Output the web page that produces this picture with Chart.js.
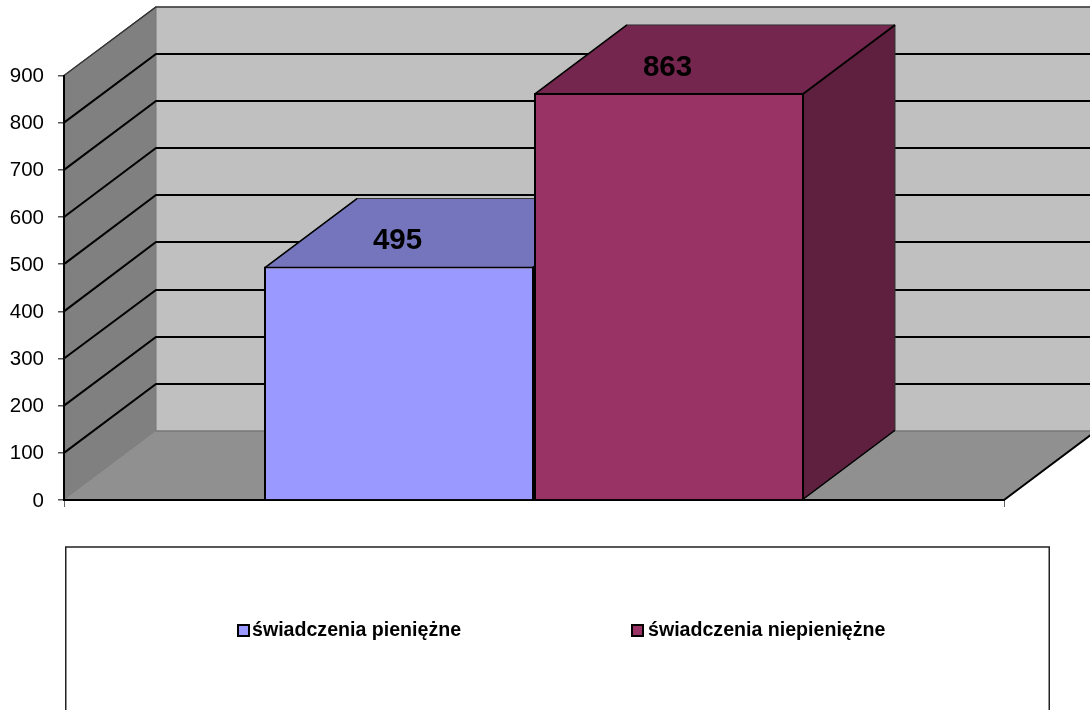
<!DOCTYPE html>
<html>
<head>
<meta charset="utf-8">
<title>Świadczenia</title>
<script src="https://cdn.jsdelivr.net/npm/chart.js@4/dist/chart.umd.min.js"></script>
<style>
  body { margin: 0; background: #fff; }
  canvas { display: block; }
</style>
</head>
<body>
<canvas id="chartContainer" width="1090" height="710"></canvas>
<script>
// data
const categories = [''];
const seriesNames = ['świadczenia pieniężne', 'świadczenia niepieniężne'];
const seriesValues = [[495], [863]];

// colours per series: front, top, side
const frontColors = ['#9999FF', '#993366'];
const topColors = ['#7575BD', '#74264F'];
const sideColors = ['#60607F', '#5F203F'];

const FONT = '"Liberation Sans", Arial, sans-serif';
const depthX = 92;   // how far the 3D box goes right
const depthY = 69;   // and up

function poly(ctx, pts, fill, stroke, lw) {
    ctx.beginPath();
    pts.forEach((p, i) => i ? ctx.lineTo(p[0], p[1]) : ctx.moveTo(p[0], p[1]));
    ctx.closePath();
    if (fill) { ctx.fillStyle = fill; ctx.fill(); }
    if (stroke) { ctx.strokeStyle = stroke; ctx.lineWidth = lw; ctx.stroke(); }
}

function line(ctx, pts, stroke, lw) {
    ctx.beginPath();
    pts.forEach((p, i) => i ? ctx.lineTo(p[0], p[1]) : ctx.moveTo(p[0], p[1]));
    ctx.strokeStyle = stroke;
    ctx.lineWidth = lw;
    ctx.stroke();
}

// back wall, side wall, floor and the gridlines running round them
const wallsPlugin = {
    id: 'walls',
    beforeDraw(chart) {
        const { ctx, chartArea: a, scales: { y } } = chart;
        const l = a.left, r = a.right, b = a.bottom, t = a.top;
        ctx.save();
        poly(ctx, [[l + depthX, t - depthY], [r + depthX, t - depthY], [r + depthX, b - depthY], [l + depthX, b - depthY]], '#C0C0C0');
        poly(ctx, [[l, t], [l + depthX, t - depthY], [l + depthX, b - depthY], [l, b]], '#808080', '#777', 1);
        poly(ctx, [[l, b], [l + depthX, b - depthY], [r + depthX, b - depthY], [r, b]], '#909090');
        line(ctx, [[l + depthX, b - depthY], [r + depthX, b - depthY]], '#777', 1.5);
        y.ticks.forEach(tick => {
            if (tick.value === 0) return;
            const py = y.getPixelForValue(tick.value);
            const backY = Math.round(py - depthY);
            const isTop = tick.value === y.max;
            line(ctx, [[l, py], [l + depthX, backY], [r + depthX, backY]],
                isTop ? '#333' : '#000', isTop ? 1.5 : 2);
        });
        line(ctx, [[r, b], [r + depthX, b - depthY]], '#000', 2);
        ctx.restore();
    },
    // top and side of each bar go under the front faces
    beforeDatasetsDraw(chart) {
        const { ctx } = chart;
        ctx.save();
        chart.data.datasets.forEach((ds, i) => {
            const bar = chart.getDatasetMeta(i).data[0];
            const x1 = bar.x - bar.width / 2 + 1, x2 = bar.x + bar.width / 2 - 1;
            const top = bar.y + 1, base = bar.base;
            poly(ctx, [[x2, top], [x2 + depthX, top - depthY], [x2 + depthX, base - depthY], [x2, base]], sideColors[i], '#333', 1);
            poly(ctx, [[x1, top], [x1 + depthX, top - depthY], [x2 + depthX, top - depthY], [x2, top]], topColors[i], '#333', 1);
            line(ctx, [[x1, top], [x1 + depthX, top - depthY]], '#000', 1.5);
            line(ctx, [[x2, top], [x2 + depthX, top - depthY]], '#000', 2);
            line(ctx, [[x2, base], [x2 + depthX, base - depthY]], '#000', 1.5);
        });
        ctx.restore();
    },
    // value labels and the boxed legend
    afterDraw(chart) {
        const { ctx } = chart;
        ctx.save();
        ctx.fillStyle = '#000';
        ctx.textAlign = 'center';
        ctx.textBaseline = 'middle';
        ctx.font = 'bold 29.5px ' + FONT;
        chart.data.datasets.forEach((ds, i) => {
            const bar = chart.getDatasetMeta(i).data[0];
            ctx.fillText(ds.data[0], bar.x - 1.5, bar.y - 25.5);
        });

        ctx.strokeStyle = '#222';
        ctx.lineWidth = 1.5;
        ctx.strokeRect(65.75, 547, 983.5, 220);

        const swatchX = [238, 632];
        const textX = [252, 648];
        ctx.textAlign = 'left';
        ctx.font = 'bold 19.6px ' + FONT;
        seriesNames.forEach((name, i) => {
            ctx.fillStyle = frontColors[i];
            ctx.fillRect(swatchX[i], 625, 11, 11);
            ctx.strokeStyle = '#000';
            ctx.lineWidth = 2;
            ctx.strokeRect(swatchX[i], 625, 11, 11);
            ctx.fillStyle = '#000';
            ctx.fillText(name, textX[i], 631);
        });
        ctx.restore();
    }
};

new Chart(document.getElementById('chartContainer').getContext('2d'), {
    type: 'bar',
    data: {
        labels: categories,
        datasets: seriesNames.map((name, i) => ({
            label: name,
            data: seriesValues[i],
            backgroundColor: frontColors[i],
            borderColor: '#000',
            borderWidth: 2,
            categoryPercentage: 540 / 940,
            barPercentage: 1
        }))
    },
    options: {
        responsive: false,
        animation: false,
        layout: { padding: { left: 0, right: 86, top: 75.5, bottom: 210 } },
        plugins: { legend: { display: false }, tooltip: { enabled: false } },
        scales: {
            x: {
                afterFit(scale) { scale.height = 0; },
                ticks: { display: false },
                border: { color: '#000', width: 2 },
                grid: { drawOnChartArea: false, tickLength: 7, color: '#666' }
            },
            y: {
                min: 0,
                max: 900,
                afterFit(scale) { scale.width = 64; },
                ticks: {
                    stepSize: 100,
                    padding: 14,
                    labelOffset: 1,
                    color: '#000',
                    font: { family: FONT, size: 20.5 }
                },
                border: { color: '#000', width: 2 },
                grid: { drawOnChartArea: false, tickLength: 6, color: '#555', lineWidth: 1.5 }
            }
        }
    },
    plugins: [wallsPlugin]
});
</script>
</body>
</html>
